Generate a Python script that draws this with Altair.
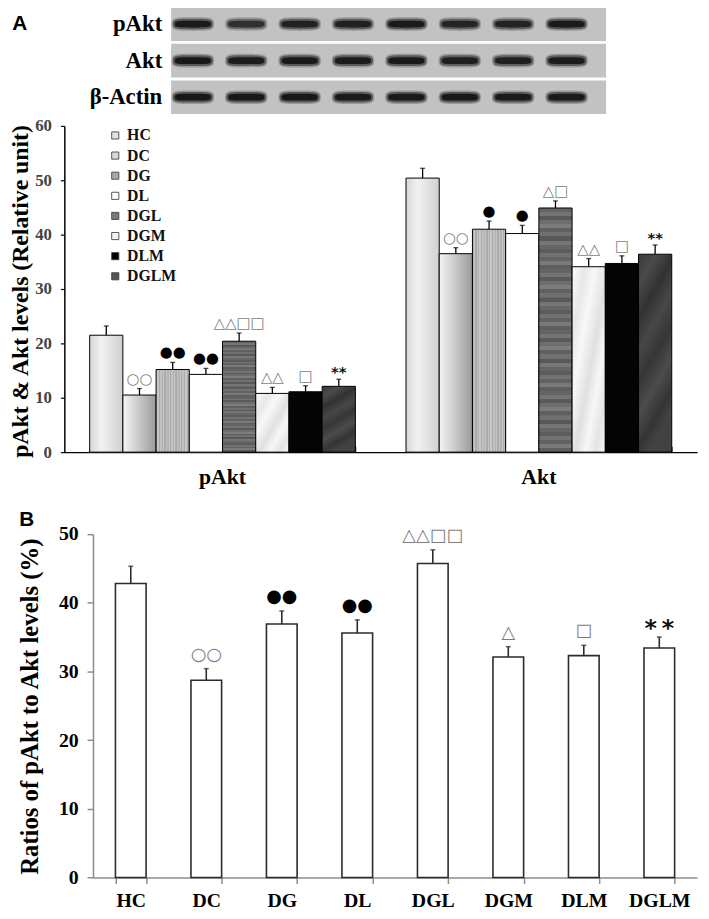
import altair as alt
import pandas as pd

# ---------------- data ----------------
treats = ["HC", "DC", "DG", "DL", "DGL", "DGM", "DLM", "DGLM"]
groups = ["pAkt", "Akt"]

pakt_mean = [21.5, 10.5, 15.2, 14.3, 20.4, 10.8, 11.1, 12.1]
pakt_err = [1.7, 1.2, 1.3, 1.1, 1.5, 1.1, 1.1, 1.3]
akt_mean = [50.4, 36.5, 41.0, 40.2, 44.9, 34.1, 34.7, 36.4]
akt_err = [1.8, 1.1, 1.5, 1.5, 1.3, 1.5, 1.4, 1.7]
pakt_marks = ["", "○○", "●●", "●●", "△△□□", "△△", "□", "**"]
akt_marks = ["", "○○", "●", "●", "△□", "△△", "□", "**"]

ratio_mean = [42.8, 28.7, 36.9, 35.6, 45.7, 32.1, 32.3, 33.4]
ratio_err = [2.5, 1.7, 1.9, 1.9, 2.0, 1.5, 1.5, 1.6]
ratio_marks = ["", "○○", "●●", "●●", "△△□□", "△", "□", "*\u2009*"]

a_ticks = [0, 10, 20, 30, 40, 50, 60]
b_ticks = [0, 10, 20, 30, 40, 50]

blot_rows = ["pAkt", "Akt", "β-Actin"]
lanes = [1, 2, 3, 4, 5, 6, 7, 8]
blot_pakt = [0.92, 0.7, 0.84, 0.84, 0.92, 0.8, 0.82, 0.92]
blot_akt = [0.95, 0.88, 0.93, 0.9, 0.93, 0.86, 0.86, 0.9]
blot_actin = [0.95, 0.95, 0.95, 0.93, 0.93, 0.95, 0.93, 0.93]

legend_colors = ["#e2e2e2", "#d8d8d8", "#a9a9a9", "#ffffff", "#7a7a7a", "#f4f4f4", "#000000", "#555555"]

# ---------------- styles ----------------
SERIF = "Liberation Serif"
SANS = "Liberation Sans"
W, H = 701, 911


def lin(stops, x2=1, y2=0):
    return {"gradient": "linear", "x1": 0, "y1": 0, "x2": x2, "y2": y2,
            "stops": [{"offset": o, "color": c} for o, c in stops]}


def stripes(tones, x2, y2):
    n = len(tones)
    st = []
    for i, c in enumerate(tones):
        st.append((i / n, c))
        st.append(((i + 1) / n - 0.0001, c))
    return lin(st, x2, y2)


dg_tones = ["#b4b4b4", "#c6c6c6", "#aaaaaa", "#c2c2c2", "#b0b0b0", "#c8c8c8", "#acacac", "#c0c0c0"] * 3
dgl_tones = ["#646464", "#747474", "#5a5a5a", "#6e6e6e", "#7c7c7c", "#606060", "#707070", "#585858",
             "#767676", "#666666", "#5c5c5c", "#727272", "#626262", "#7a7a7a", "#5e5e5e"] * 4

fills = {
    "HC": lin([(0, "#d6d6d6"), (0.35, "#f2f2f2"), (1, "#d0d0d0")]),
    "DC": lin([(0, "#f5f5f5"), (1, "#9a9a9a")]),
    "DG": stripes(dg_tones, 1, 0),
    "DL": "#ffffff",
    "DGL": stripes(dgl_tones, 0, 1),
    "DGM": lin([(0, "#fbfbfb"), (0.2, "#e8e8e8"), (0.35, "#f8f8f8"), (0.55, "#e0e0e0"),
                (0.7, "#f7f7f7"), (0.85, "#e4e4e4"), (1, "#f8f8f8")], 1, 1),
    "DLM": "#040404",
    "DGLM": lin([(0, "#3a3a3a"), (0.15, "#4a4a4a"), (0.3, "#323232"), (0.45, "#474747"),
                 (0.6, "#363636"), (0.75, "#4c4c4c"), (0.9, "#343434"), (1, "#424242")], 0.3, 1),
}


def sym_color(k):
    if "●" in k:
        return "#000000"
    if "*" in k:
        return "#111111"
    return "#7c7c7c"


# ---------------- tables ----------------
rowsA = []
for g, means, errs, marks in [("pAkt", pakt_mean, pakt_err, pakt_marks),
                              ("Akt", akt_mean, akt_err, akt_marks)]:
    for t, m, e, k in zip(treats, means, errs, marks):
        rowsA.append(dict(group=g, treat=t, mean=m, top=round(m + e, 2), mark=k, mcolor=sym_color(k)))
dfA = pd.DataFrame(rowsA)

dfB = pd.DataFrame(dict(treat=treats, mean=ratio_mean,
                        top=[round(m + e, 2) for m, e in zip(ratio_mean, ratio_err)],
                        mark=ratio_marks, mcolor=[sym_color(k) for k in ratio_marks]))

rowsBl = []
for r, vals in zip(blot_rows, [blot_pakt, blot_akt, blot_actin]):
    for ln, v in zip(lanes, vals):
        rowsBl.append(dict(row=r, lane=ln, inten=v))
dfBlot = pd.DataFrame(rowsBl)
dfRows = pd.DataFrame(dict(row=blot_rows))
dfLeg = pd.DataFrame(dict(treat=treats))

STAR = "indexof(datum.mark, '*') >= 0"
NOSTAR = "indexof(datum.mark, '*') < 0"

# ---------------- blot ----------------
xL = alt.X("lane:O", scale=alt.Scale(domain=lanes, range=[160, 592], paddingInner=0.2, paddingOuter=0), axis=None)
yR = alt.Y("row:N", scale=alt.Scale(domain=blot_rows, range=[-6, 102], paddingInner=0.08, paddingOuter=0), axis=None)

band_outer = "M -1 0 C -1 -0.32 -0.8 -0.32 0 -0.32 C 0.8 -0.32 1 -0.32 1 0 C 1 0.32 0.8 0.32 0 0.32 C -0.8 0.32 -1 0.32 -1 0 Z"
band_mid = "M -0.94 0 C -0.94 -0.24 -0.8 -0.25 0 -0.25 C 0.8 -0.25 0.94 -0.24 0.94 0 C 0.94 0.24 0.8 0.25 0 0.25 C -0.8 0.25 -0.94 0.24 -0.94 0 Z"
band_inner = "M -0.85 0 C -0.85 -0.15 -0.75 -0.16 0 -0.16 C 0.75 -0.16 0.85 -0.15 0.85 0 C 0.85 0.15 0.75 0.16 0 0.16 C -0.75 0.16 -0.85 0.15 -0.85 0 Z"

blot_bg = alt.Chart(dfRows).mark_rect(fill="#c2c2c2").encode(
    y=yR, x=alt.value(165), x2=alt.value(605))
blot_o = alt.Chart(dfBlot).transform_calculate(o="datum.inten*0.3").mark_point(
    shape=band_outer, filled=True, fill="#303030", size=1850, strokeWidth=0).encode(
    x=xL, y=yR, opacity=alt.Opacity("o:Q", scale=None))
blot_m = alt.Chart(dfBlot).transform_calculate(o="datum.inten*0.6").mark_point(
    shape=band_mid, filled=True, fill="#262626", size=1850, strokeWidth=0).encode(
    x=xL, y=yR, opacity=alt.Opacity("o:Q", scale=None))
blot_i = alt.Chart(dfBlot).mark_point(
    shape=band_inner, filled=True, fill="#151515", size=1850, strokeWidth=0).encode(
    x=xL, y=yR, opacity=alt.Opacity("inten:Q", scale=None))
blot_lab = alt.Chart(dfRows).mark_text(
    font=SERIF, fontWeight="bold", fontSize=23, align="right", baseline="middle", color="black").encode(
    y=yR, x=alt.value(156), text="row:N")
blot = alt.layer(blot_bg, blot_o, blot_m, blot_i, blot_lab)

# ---------------- legend ----------------
yLeg = alt.Y("treat:N", scale=alt.Scale(domain=treats, range=[113.5, 276.3], paddingInner=0, paddingOuter=0), axis=None)
leg_sq = alt.Chart(dfLeg).mark_square(size=52, stroke="#444444", strokeWidth=0.9, opacity=1).encode(
    y=yLeg, x=alt.value(108.5),
    color=alt.Color("treat:N", scale=alt.Scale(domain=treats, range=legend_colors), legend=None))
leg_tx = alt.Chart(dfLeg).mark_text(
    font=SERIF, fontWeight="bold", fontSize=16, align="left", baseline="middle", color="#111111").encode(
    y=yLeg, x=alt.value(120.5), text="treat:N")
legend = alt.layer(leg_sq, leg_tx)

# ---------------- panel A ----------------
scAx = alt.Scale(domain=groups, range=[57, 697], paddingInner=0.16, paddingOuter=0.08)
scAoff = alt.Scale(domain=treats, paddingInner=0, paddingOuter=0)
scAy = alt.Scale(domain=[0, 60], range=[444, 114])

axAy = alt.Axis(orient="left", offset=-57, values=a_ticks, title="pAkt & Akt levels (Relative unit)",
                titleFont=SERIF, titleFontWeight="bold", titleFontSize=24, titleColor="black",
                titleX=-44, titleY=281, titleAngle=270, titleBaseline="middle", titleAlign="center",
                labelFont=SERIF, labelFontWeight="bold", labelFontSize=17, labelColor="#444444",
                labelPadding=9, tickSize=4, tickColor="black", tickWidth=1.2,
                domainColor="black", domainWidth=1.5, grid=False)
axAx = alt.Axis(orient="bottom", offset=-467, title=None, labelAngle=0,
                labelFont=SERIF, labelFontWeight="bold", labelFontSize=22, labelColor="black",
                labelPadding=15, ticks=False, tickSize=0, domainColor="black", domainWidth=1.5, grid=False)
axAtop = alt.Axis(orient="top", offset=-444, title=None, labels=False, domain=False,
                  ticks=True, tickSize=6, tickBand="extent", tickColor="black", tickWidth=1.5, grid=False)


def xA(axis=None):
    return alt.X("group:N", scale=scAx, axis=axis, title=None)


xoffA = alt.XOffset("treat:N", scale=scAoff)

a_layers = []
for i, t in enumerate(treats):
    a_layers.append(
        alt.Chart(dfA).transform_filter(alt.datum.treat == t).mark_bar(
            fill=fills[t], stroke="black", strokeWidth=1).encode(
            x=xA(axAx if i == 0 else None), xOffset=xoffA,
            y=alt.Y("mean:Q", scale=scAy, axis=axAy)))
a_err = alt.Chart(dfA).mark_rule(color="black", strokeWidth=1.3).encode(
    x=xA(), xOffset=xoffA, y=alt.Y("mean:Q", scale=scAy, axis=axAy), y2="top:Q")
a_cap = alt.Chart(dfA).mark_tick(color="black", thickness=1.3, size=5).encode(
    x=xA(axAtop), xOffset=xoffA, y=alt.Y("top:Q", scale=scAy, axis=axAy))
a_sym = alt.Chart(dfA).transform_filter(NOSTAR).mark_text(
    font="DejaVu Sans", fontSize=15, baseline="middle", dy=-10).encode(
    x=xA(), xOffset=xoffA, y=alt.Y("top:Q", scale=scAy, axis=axAy),
    text="mark:N", color=alt.Color("mcolor:N", scale=None))
a_star = alt.Chart(dfA).transform_filter(STAR).mark_text(
    font="DejaVu Sans", fontWeight="bold", fontSize=15, baseline="middle", dy=-7).encode(
    x=xA(), xOffset=xoffA, y=alt.Y("top:Q", scale=scAy, axis=axAy),
    text="mark:N", color=alt.Color("mcolor:N", scale=None))
panelA = alt.layer(*a_layers, a_err, a_cap, a_sym, a_star).resolve_axis(x="independent")

# ---------------- panel B ----------------
scBx = alt.Scale(domain=treats, range=[86, 697], paddingInner=0.594, paddingOuter=0.297)
scBy = alt.Scale(domain=[0, 50], range=[874.3, 526.8])
axBy = alt.Axis(orient="left", offset=-86, values=b_ticks, title="Ratios of pAkt to Akt levels (%)",
                titleFont=SERIF, titleFontWeight="bold", titleFontSize=25, titleColor="black",
                titleX=-64, titleY=701, titleAngle=270, titleBaseline="middle", titleAlign="center",
                labelFont=SERIF, labelFontWeight="bold", labelFontSize=20, labelColor="black",
                labelPadding=9, tickSize=6, tickColor="#8c8c8c", tickWidth=1.5,
                domainColor="#8c8c8c", domainWidth=1.5, grid=False)
axBx = alt.Axis(orient="bottom", offset=-36.7, title=None, labelAngle=0,
                labelFont=SERIF, labelFontWeight="bold", labelFontSize=20, labelColor="black",
                labelPadding=7, tickSize=6, tickBand="extent", tickColor="#8c8c8c", tickWidth=1.5,
                domainColor="#8c8c8c", domainWidth=1.5, grid=False)
xB = alt.X("treat:N", scale=scBx, axis=axBx, title=None)

b_bar = alt.Chart(dfB).mark_bar(fill="white", stroke="#2b2b2b", strokeWidth=1.6).encode(
    x=xB, y=alt.Y("mean:Q", scale=scBy, axis=axBy))
b_err = alt.Chart(dfB).mark_rule(color="#2b2b2b", strokeWidth=1.6).encode(
    x=xB, y=alt.Y("mean:Q", scale=scBy, axis=axBy), y2="top:Q")
b_cap = alt.Chart(dfB).mark_tick(color="#2b2b2b", thickness=1.6, size=5).encode(
    x=xB, y=alt.Y("top:Q", scale=scBy, axis=axBy))
b_sym = alt.Chart(dfB).transform_filter(NOSTAR).mark_text(
    font="DejaVu Sans", fontSize=18, baseline="middle", dy=-14).encode(
    x=xB, y=alt.Y("top:Q", scale=scBy, axis=axBy),
    text="mark:N", color=alt.Color("mcolor:N", scale=None))
b_star = alt.Chart(dfB).transform_filter(STAR).mark_text(
    font="DejaVu Sans", fontWeight="bold", fontSize=24, baseline="middle", dy=-8).encode(
    x=xB, y=alt.Y("top:Q", scale=scBy, axis=axBy),
    text="mark:N", color=alt.Color("mcolor:N", scale=None))
panelB = alt.layer(b_bar, b_err, b_cap, b_sym, b_star)

# ---------------- panel letters ----------------
letA = alt.Chart(pd.DataFrame(dict(t=["A"]))).mark_text(
    font=SANS, fontWeight="bold", fontSize=21, align="center", baseline="middle", color="black").encode(
    x=alt.value(12), y=alt.value(11), text="t:N")
letB = alt.Chart(pd.DataFrame(dict(t=["B"]))).mark_text(
    font=SANS, fontWeight="bold", fontSize=21, align="center", baseline="middle", color="black").encode(
    x=alt.value(19), y=alt.value(513), text="t:N")

chart = alt.layer(blot, legend, panelA, panelB, letA, letB).resolve_scale(
    x="independent", y="independent", color="independent"
).properties(
    width=W, height=H, padding=0, autosize=alt.AutoSizeParams(type="none")
).configure_view(stroke=None)

chart.save("out.html", embed_options={"renderer": "svg", "actions": False})
